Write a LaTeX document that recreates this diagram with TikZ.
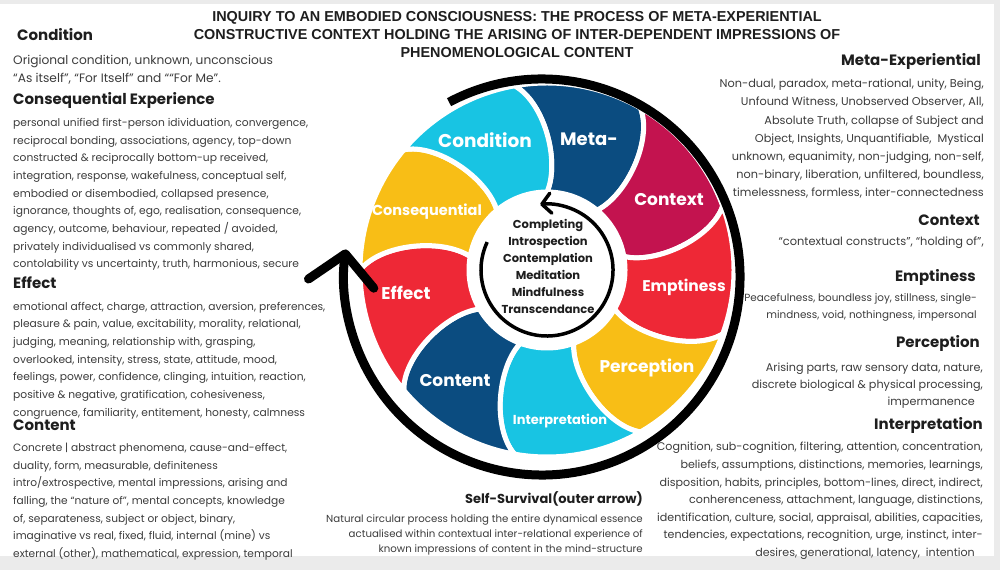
\documentclass[tikz,border=0pt]{standalone}
\usepackage{fontspec}
\setmainfont{Poppins}
\newfontfamily\titlefont{Liberation Sans}
\usetikzlibrary{arrows.meta}
\definecolor{cyanS}{HTML}{18C4E3}
\definecolor{blueS}{HTML}{0B4C80}
\definecolor{crimS}{HTML}{C3134F}
\definecolor{redS}{HTML}{EE2836}
\definecolor{yelS}{HTML}{F8BE16}
\definecolor{bodyT}{HTML}{3C3C3C}
\definecolor{headT}{HTML}{1E1E1E}
\definecolor{frameG}{HTML}{EBEBEB}
\begin{document}
\begin{tikzpicture}[x=1pt,y=1pt,
  body/.style={inner sep=0pt, text=bodyT, font=\fontsize{10.7}{17.7}\selectfont},
  bodyL/.style={body, align=left, anchor=north west},
  bodyR/.style={body, align=right, anchor=north east},
  head/.style={inner sep=0pt, text=headT, font=\fontsize{15}{18}\selectfont\bfseries},
  seglabel/.style={text=white, inner sep=0pt, font=\fontsize{17}{20}\selectfont\bfseries},
  centertext/.style={text=headT, inner sep=0pt, align=center, font=\fontsize{11.5}{17}\selectfont\bfseries},
  titletext/.style={text=headT, inner sep=0pt, align=center, font=\titlefont\fontsize{14.4}{18}\selectfont\bfseries}
]
\useasboundingbox (0,0) rectangle (1000,570);
\fill[frameG] (0,0) rectangle (1000,570);
\fill[white] (0,14) rectangle (994,566);

% wheel segments
\begin{scope}[shift={(547,300)}]
\foreach \k/\col in {0/blueS,1/crimS,2/redS,3/yelS,4/cyanS,5/blueS,6/redS,7/yelS,8/cyanS}{
  \pgfmathsetmacro\a{100-40*\k}
  \pgfmathsetmacro\b{\a-40}
  \pgfmathsetmacro\ai{\a-10}
  \pgfmathsetmacro\bi{\b-10}
  \filldraw[fill=\col, draw=white, line width=5pt, line join=round]
    (\a:187) arc[start angle=\a, end angle=\b, radius=187]
    .. controls ({\b-9}:168) and ({\b-17}:110) .. (\bi:78)
    arc[start angle=\bi, end angle=\ai, radius=78]
    .. controls ({\a-17}:110) and ({\a-9}:168) .. cycle;
}
\end{scope}

% inner circle
\coordinate (ic) at (547,300);
\fill[white] (ic) circle[radius=74];
\draw[line width=3.5pt, -{Straight Barb[length=9pt,width=20pt,round]}]
  ([shift={(155:66)}]ic) arc[start angle=155, end angle=456, radius=66];

% outer arrow
\coordinate (rc) at (542,293);
\draw[line width=9pt, -{Straight Barb[length=30pt,width=66pt,round]}]
  ([shift={(118:198)}]rc) arc[start angle=118, end angle=-188, radius=198];

% segment labels
\node[seglabel, font=\fontsize{18.5}{20}\selectfont\bfseries] (lcond) at (485,430) {Condition};
\node[seglabel, font=\fontsize{18}{20}\selectfont\bfseries] (lmeta) at (589,431) {Meta-};
\node[seglabel] (lctx) at (669,370) {Context};
\node[seglabel, font=\fontsize{15.5}{18}\selectfont\bfseries] (lemp) at (684,283) {Emptiness};
\node[seglabel] (lperc) at (647,202) {Perception};
\node[seglabel, font=\fontsize{13}{16}\selectfont\bfseries] (linterp) at (560,149) {Interpretation};
\node[seglabel] (lcont) at (455,189) {Content};
\node[seglabel] (leff) at (406,277) {Effect};
\node[seglabel, font=\fontsize{14.5}{17}\selectfont\bfseries] (lcons) at (427,358) {Consequential};

% center
\node[centertext] (ctr) at (548,303.5) {Completing\\Introspection\\Contemplation\\Meditation\\Mindfulness\\Transcendance};

% title
\node[titletext, anchor=north] (title) at (517,559) {INQUIRY TO AN EMBODIED CONSCIOUSNESS: THE PROCESS OF META-EXPERIENTIAL\\CONSTRUCTIVE CONTEXT HOLDING THE ARISING OF INTER-DEPENDENT IMPRESSIONS OF\\PHENOMENOLOGICAL CONTENT};

% left column
\node[head, anchor=west] (hcond) at (17,535) {Condition};
\node[bodyL, font=\fontsize{12.2}{18}\selectfont] (bcond) at (13,515) {Origional condition, unknown, unconscious\\“As itself”, “For Itself” and ““For Me”.};
\node[head, anchor=west] (hcons) at (13,470) {Consequential Experience};
\node[bodyL] (bcons) at (13,452) {personal unified first-person idividuation, convergence,\\reciprocal bonding, associations, agency, top-down\\constructed \& reciprocally bottom-up received,\\integration, response, wakefulness, conceptual self,\\embodied or disembodied, collapsed presence,\\ignorance, thoughts of, ego, realisation, consequence,\\agency, outcome, behaviour, repeated / avoided,\\privately individualised vs commonly shared,\\contolability vs uncertainty, truth, harmonious, secure};
\node[head, anchor=west] (heff) at (13,287) {Effect};
\node[bodyL] (beff) at (13,268.3) {emotional affect, charge, attraction, aversion, preferences,\\pleasure \& pain, value, excitability, morality, relational,\\judging, meaning, relationship with, grasping,\\overlooked, intensity, stress, state, attitude, mood,\\feelings, power, confidence, clinging, intuition, reaction,\\positive \& negative, gratification, cohesiveness,\\congruence, familiarity, entitement, honesty, calmness};
\node[head, anchor=west] (hcont) at (13,145) {Content};
\node[bodyL, font=\fontsize{10.6}{17.7}\selectfont] (bcont) at (13,127.3) {Concrete | abstract phenomena, cause-and-effect,\\duality, form, measurable, definiteness\\intro/extrospective, mental impressions, arising and\\falling, the “nature of”, mental concepts, knowledge\\of, separateness, subject or object, binary,\\imaginative vs real, fixed, fluid, internal (mine) vs\\external (other), mathematical, expression, temporal};

% right column
\node[head, anchor=east] (hmeta) at (981,509) {Meta-Experiential};
\node[bodyR, font=\fontsize{11.3}{18.2}\selectfont] (bmeta) at (984,491) {Non-dual, paradox, meta-rational, unity, Being,\\Unfound Witness, Unobserved Observer, All,\\Absolute Truth, collapse of Subject and\\Object, Insights, Unquantifiable,\ \ Mystical\\unknown, equanimity, non-judging, non-self,\\non-binary, liberation, unfiltered, boundless,\\timelessness, formless, inter-connectedness};
\node[head, anchor=east] (hctx) at (980,350) {Context};
\node[bodyR, font=\fontsize{11.4}{17.7}\selectfont] (bctx) at (984,333) {“contextual constructs”, “holding of”,};
\node[head, anchor=east] (hemp) at (976,293) {Emptiness};
\node[bodyR, font=\fontsize{10.4}{17.7}\selectfont] (bemp) at (977,277) {Peacefulness, boundless joy, stillness, single-\\mindness, void, nothingness, impersonal};
\node[head, anchor=east] (hperc) at (980,227) {Perception};
\node[bodyR, font=\fontsize{11.2}{17.2}\selectfont] (bperc) at (983,207.7) {Arising parts, raw sensory data, nature,\\discrete biological \& physical processing,\\impermanence\hspace*{8pt}};
\node[head, anchor=east] (hinterp) at (983,145) {Interpretation};
\node[bodyR, font=\fontsize{11.1}{17.6}\selectfont] (binterp) at (983,127.7) {Cognition, sub-cognition, filtering, attention, concentration,\\beliefs, assumptions, distinctions, memories, learnings,\\disposition, habits, principles, bottom-lines, direct, indirect,\\conherenceness, attachment, language, distinctions,\\identification, culture, social, appraisal, abilities, capacities,\\tendencies, expectations, recognition, urge, instinct, inter-\\desires, generational, latency,\ \ intention\hspace*{8pt}};

% bottom centre
\node[head, anchor=east, font=\fontsize{13}{16}\selectfont\bfseries] (hself) at (643,71) {Self-Survival(outer arrow)};
\node[bodyR, font=\fontsize{10.2}{15}\selectfont] (bself) at (643,55) {Natural circular process holding the entire dynamical essence\\actualised within contextual inter-relational experience of\\known impressions of content in the mind-structure};
\end{tikzpicture}
\end{document}
